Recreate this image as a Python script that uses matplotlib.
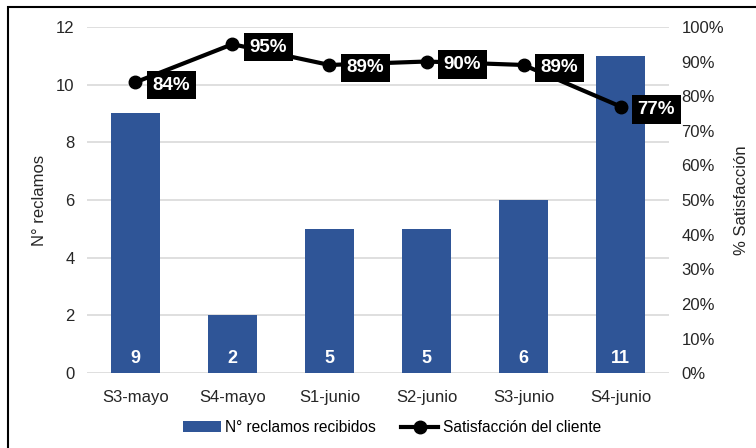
import numpy as np
import matplotlib
matplotlib.use("Agg")
import matplotlib.pyplot as plt
from matplotlib.patches import Rectangle

plt.rcParams['font.family'] = ['Liberation Sans', 'DejaVu Sans']

# weekly data
semanas = ["S3-mayo", "S4-mayo", "S1-junio", "S2-junio", "S3-junio", "S4-junio"]
reclamos = [9, 2, 5, 5, 6, 11]
satisfaccion = [84, 95, 89, 90, 89, 77]

fig = plt.figure(figsize=(7.56, 4.48), dpi=100)
ax = fig.add_axes([0.115, 0.167, 0.77, 0.773])
ax2 = ax.twinx()

x = np.arange(len(semanas))
bars = ax.bar(x, reclamos, width=0.51, color='#2F5597', zorder=2, label='N° reclamos recibidos')
for xi, v in zip(x, reclamos):
    ax.text(xi, 0.5, str(v), ha='center', va='center', color='white',
            fontsize=13, fontweight='bold', zorder=3)

ax.set_xlim(-0.5, len(semanas) - 0.5)
ax.set_ylim(0, 12)
ax.set_yticks(range(0, 13, 2))
ax.set_xticks(x)
ax.set_xticklabels(semanas)
ax.yaxis.grid(True, color='#d9d9d9', lw=1.2, zorder=0)
ax.set_axisbelow(True)
ax.tick_params(axis='y', length=0, labelsize=12, colors='#262626', pad=9)
ax.tick_params(axis='x', length=0, labelsize=12, colors='#262626', pad=12)
ax.set_ylabel('N° reclamos', fontsize=12, color='#262626', labelpad=6)
for s in ax.spines.values():
    s.set_visible(False)

sat = np.array(satisfaccion) / 100
ax2.plot(x, sat, color='black', lw=3, marker='o', ms=9, zorder=4, label='Satisfacción del cliente')
for xi, v in zip(x, satisfaccion):
    ax2.annotate(f"{v}%", (xi, v / 100), xytext=(17, -3), textcoords='offset pixels',
                 ha='left', va='center', color='white', fontsize=13.5, fontweight='bold',
                 bbox=dict(boxstyle='square,pad=0.3', fc='black', ec='none'), zorder=5)
ax2.set_ylim(0, 1)
ax2.set_yticks(np.arange(0, 1.01, 0.1))
ax2.set_yticklabels([f"{int(round(t * 100))}%" for t in np.arange(0, 1.01, 0.1)])
ax2.tick_params(length=0, labelsize=12, colors='#262626', pad=9)
ax2.set_ylabel('% Satisfacción', fontsize=12, color='#262626', rotation=90, labelpad=7)
for s in ax2.spines.values():
    s.set_visible(False)

h1, l1 = ax.get_legend_handles_labels()
h2, l2 = ax2.get_legend_handles_labels()
fig.legend(h1 + h2, l1 + l2, loc='center', bbox_to_anchor=(0.519, 0.045), ncol=2,
           frameon=False, fontsize=11.2, handlelength=2.4, handletextpad=0.3, columnspacing=1.6)

# outer border
fig.add_artist(Rectangle((8 / 756, -0.1), 1.2, 1 - 7 / 448 + 0.1, transform=fig.transFigure,
                         fill=False, ec='black', lw=1.5))

fig.savefig('out.png', dpi=100)
